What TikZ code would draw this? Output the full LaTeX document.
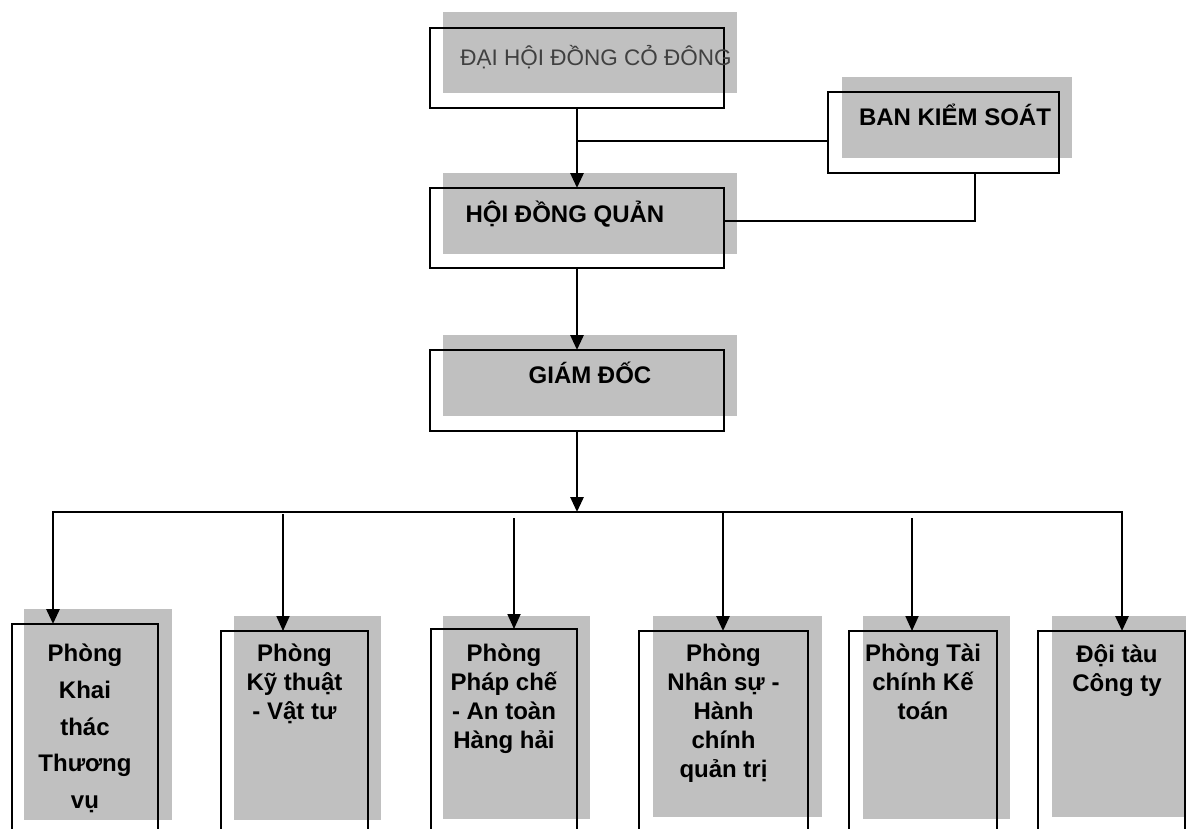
\documentclass[tikz,border=0pt]{standalone}
\usepackage{fontspec}
\setmainfont{Liberation Sans}
\usetikzlibrary{arrows.meta}
\definecolor{shadegray}{HTML}{C0C0C0}
\definecolor{dimtext}{HTML}{404040}
\begin{document}
\begin{tikzpicture}[x=1pt,y=-1pt,
  outl/.style={draw=black, line width=1.5pt, inner sep=0pt, outer sep=0pt, anchor=north west},
  shadowbox/.style={fill=shadegray},
  btxt/.style={font=\fontsize{24}{29}\selectfont\bfseries, inner sep=0pt, anchor=base},
  ltxt/.style={font=\fontsize{24}{29}\selectfont\bfseries, inner sep=0pt, align=center, anchor=north},
  conn/.style={line width=1.5pt},
  thk/.style={line width=2.8pt},
  thn/.style={line width=1.8pt},
  arr/.style={-{Triangle[width=13pt,length=15pt]}}]
\useasboundingbox (0,0) rectangle (1186,828);
\clip (0,0) rectangle (1186,828);
\fill[white] (0,0) rectangle (1186,828);

% ---- upper boxes ----
\fill[shadowbox] (443,12) rectangle (737,93);
\node[outl, minimum width=294pt, minimum height=80pt] (dhd) at (430,28) {};
\node[font=\fontsize{22.5}{27}\selectfont, text=dimtext, inner sep=0pt, anchor=base] (dhdt) at (596,65) {ĐẠI HỘI ĐỒNG CỎ ĐÔNG};

\fill[shadowbox] (842,77) rectangle (1072,158);
\node[outl, minimum width=231pt, minimum height=81pt] (bks) at (828,92) {};
\node[btxt] (bkst) at (955,125) {BAN KIỂM SOÁT};

\fill[shadowbox] (443,173) rectangle (737,254);
\node[outl, minimum width=294pt, minimum height=80pt] (hdqt) at (430,188) {};
\node[btxt] (hdqtt) at (565,222) {HỘI ĐỒNG QUẢN};

\fill[shadowbox] (443,335) rectangle (737,416);
\node[outl, minimum width=294pt, minimum height=81pt] (gd) at (430,350) {};
\node[btxt] (gdt) at (590,383) {GIÁM ĐỐC};

% ---- lower boxes ----
\fill[shadowbox] (24,609) rectangle (172,820);
\node[outl, minimum width=146pt, minimum height=220pt] (b1) at (12,624) {};
\node[ltxt, font=\fontsize{24}{36.7}\selectfont\bfseries] (t1) at (85,644) {Phòng\\Khai\\thác\\Thương\\vụ};

\fill[shadowbox] (234,616) rectangle (381,820);
\node[outl, minimum width=147pt, minimum height=220pt] (b2) at (221,631) {};
\node[ltxt] (t2) at (294.5,644) {Phòng\\Kỹ thuật\\- Vật tư};

\fill[shadowbox] (443,616) rectangle (590,819);
\node[outl, minimum width=146pt, minimum height=220pt] (b3) at (431,629) {};
\node[ltxt] (t3) at (504,644) {Phòng\\Pháp chế\\- An toàn\\Hàng hải};

\fill[shadowbox] (653,616) rectangle (822,817);
\node[outl, minimum width=169pt, minimum height=220pt] (b4) at (639,631) {};
\node[ltxt] (t4) at (723.5,644) {Phòng\\Nhân sự -\\Hành\\chính\\quản trị};

\fill[shadowbox] (863,616) rectangle (1010,819);
\node[outl, minimum width=148pt, minimum height=220pt] (b5) at (849,631) {};
\node[ltxt] (t5) at (923,644) {Phòng Tài\\chính Kế\\toán};

\fill[shadowbox] (1052,616) rectangle (1199,817);
\node[outl, minimum width=147pt, minimum height=220pt] (b6) at (1038,631) {};
\node[ltxt] (t6) at (1117,644) {Đội tàu\\Công ty};

% ---- connectors ----
\draw[thk, arr] (dhd.south) -- (hdqt.north);
\coordinate (j1) at (577,141);
\draw[conn] (j1) -- (j1 -| bks.west);
\coordinate (k1) at (975,221);
\draw[conn] (k1 -| hdqt.east) -- (k1) -- (k1 |- bks.south);
\draw[thk, arr] (hdqt.south) -- (gd.north);
\coordinate (bus) at (577,512);
\draw[thk, arr] (gd.south) -- (bus);

\coordinate (busL) at (53,512);
\coordinate (busR) at (1122,512);
\draw[thn] (busL) -- (busR);
\draw[thk, arr, line cap=rect] (busL) -- (busL |- b1.north);
\draw[thk, arr, line cap=rect] (busR) -- (busR |- b6.north);
\coordinate (br2) at (283,514);
\draw[thn, arr] (br2) -- (br2 |- b2.north);
\coordinate (br3) at (514,518);
\draw[thn, arr] (br3) -- (br3 |- b3.north);
\coordinate (br4) at (723,512);
\draw[thk, arr] (br4) -- (br4 |- b4.north);
\coordinate (br5) at (912,518);
\draw[thn, arr] (br5) -- (br5 |- b5.north);
\end{tikzpicture}
\end{document}
